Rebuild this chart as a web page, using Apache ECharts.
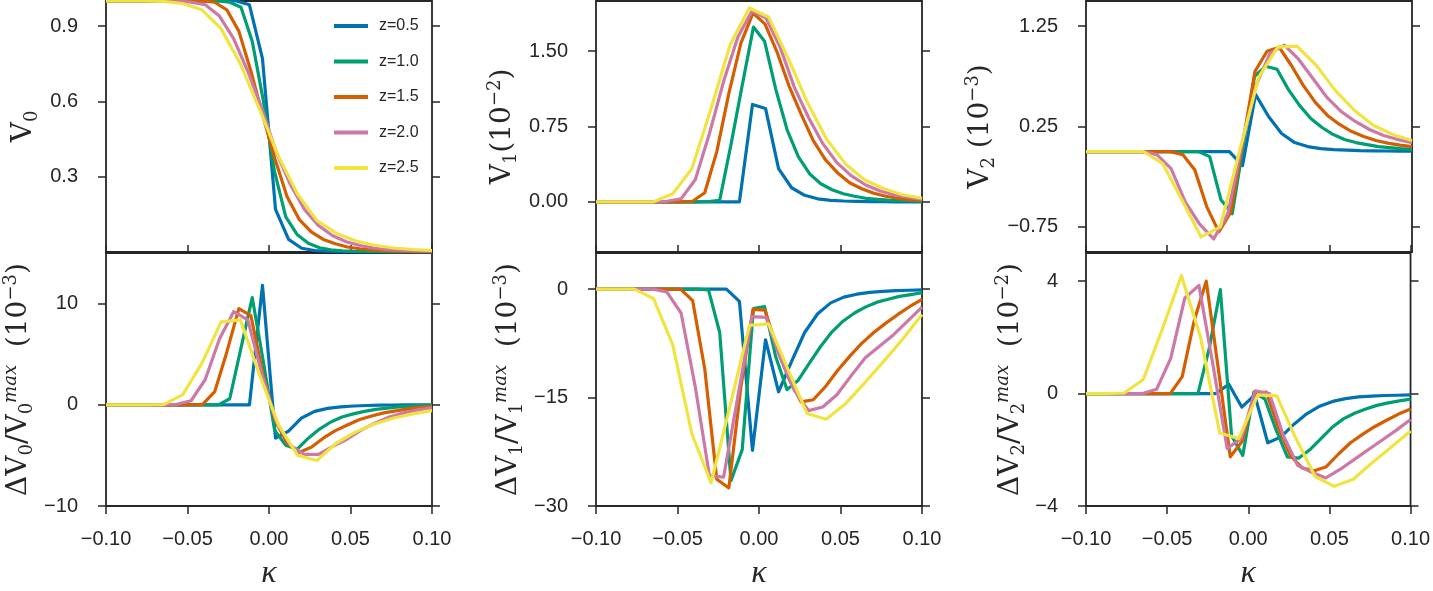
<!DOCTYPE html>
<html>
<head>
<meta charset="utf-8">
<title>V_n vs kappa</title>
<script src="https://cdn.jsdelivr.net/npm/echarts@6/dist/echarts.min.js"></script>
<style>
  html, body { margin: 0; padding: 0; background: #fff; }
  #main { width: 1433px; height: 591px; }
</style>
</head>
<body>
<div id="main"></div>
<script>
// every z was sampled on its own kappa grid
const kappaZ05 = [-0.1, -0.092, -0.084, -0.076, -0.068, -0.06, -0.052, -0.044, -0.036, -0.028, -0.02, -0.012, -0.004,
  0.004, 0.012, 0.02, 0.028, 0.036, 0.044, 0.052, 0.06, 0.068, 0.076, 0.084, 0.092, 0.1];
const kappaZ10 = [-0.1, -0.0931, -0.0862, -0.0793, -0.0724, -0.0655, -0.0586, -0.0517, -0.0448, -0.0379, -0.031, -0.0241,
  -0.0172, -0.0103, -0.0034, 0.0034, 0.0103, 0.0172, 0.0241, 0.031, 0.0379, 0.0448, 0.0517, 0.0586, 0.0655, 0.0724,
  0.0793, 0.0862, 0.0931, 0.1];
const kappaZ15 = [-0.1, -0.0926, -0.0852, -0.0778, -0.0704, -0.063, -0.0556, -0.0481, -0.0407, -0.0333, -0.0259, -0.0185,
  -0.0111, -0.0037, 0.0037, 0.0111, 0.0185, 0.0259, 0.0333, 0.0407, 0.0481, 0.0556, 0.063, 0.0704, 0.0778, 0.0852,
  0.0926, 0.1];
const kappaZ20 = [-0.1, -0.0913, -0.0826, -0.0739, -0.0652, -0.0565, -0.0478, -0.0391, -0.0304, -0.0217, -0.013, -0.0043,
  0.0043, 0.013, 0.0217, 0.0304, 0.0391, 0.0478, 0.0565, 0.0652, 0.0739, 0.0826, 0.0913, 0.1];
const kappaZ25 = [-0.1, -0.0882, -0.0765, -0.0647, -0.0529, -0.0412, -0.0294, -0.0176, -0.0059, 0.0059, 0.0176, 0.0294,
  0.0412, 0.0529, 0.0647, 0.0765, 0.0882, 0.1];

const zLabels = ['z=0.5', 'z=1.0', 'z=1.5', 'z=2.0', 'z=2.5'];
const zColors = ['#0072b2', '#009e73', '#d55e00', '#cc79a7', '#f0e442'];

// V0
const v0_z05 = [1, 1, 1, 1, 1, 1, 1, 1, 1, 1, 1, 0.985, 0.77, 0.17, 0.05, 0.015, 0.006, 0.003, 0.001, 0, 0, 0, 0, 0, 0, 0];
const v0_z10 = [1, 1, 1, 1, 1, 1, 1, 1, 1, 1, 1, 0.995, 0.975, 0.84, 0.6, 0.32, 0.14, 0.07, 0.035, 0.017, 0.009, 0.005,
  0.003, 0.002, 0.001, 0, 0, 0, 0, 0];
const v0_z15 = [1, 1, 1, 1, 1, 1, 1, 1, 1, 0.995, 0.965, 0.88, 0.72, 0.54, 0.37, 0.22, 0.13, 0.08, 0.05, 0.033, 0.02,
  0.013, 0.008, 0.005, 0.003, 0.002, 0.001, 0.001];
const v0_z20 = [1, 1, 1, 1, 1, 1, 0.995, 0.985, 0.94, 0.85, 0.72, 0.57, 0.4, 0.27, 0.17, 0.105, 0.065, 0.04, 0.025, 0.015,
  0.009, 0.006, 0.004, 0.003];
const v0_z25 = [1, 1, 1, 0.998, 0.99, 0.965, 0.89, 0.75, 0.57, 0.38, 0.23, 0.125, 0.075, 0.045, 0.027, 0.016, 0.01, 0.006];

// V1 (10^-2)
const v1_z05 = [0, 0, 0, 0, 0, 0, 0, 0, 0, 0, 0, 0, 0.97, 0.93, 0.33, 0.14, 0.065, 0.03, 0.015, 0.008, 0.004, 0.002,
  0.001, 0, 0, 0];
const v1_z10 = [0, 0, 0, 0, 0, 0, 0, 0, 0, 0, 0.003, 0.015, 0.57, 1.16, 1.74, 1.6, 1.12, 0.72, 0.45, 0.28, 0.18, 0.12,
  0.08, 0.055, 0.035, 0.025, 0.017, 0.012, 0.008, 0.005];
const v1_z15 = [0, 0, 0, 0, 0, 0, 0, 0, 0.005, 0.09, 0.5, 1.08, 1.58, 1.88, 1.77, 1.49, 1.15, 0.87, 0.61, 0.42, 0.29,
  0.19, 0.13, 0.085, 0.055, 0.035, 0.022, 0.014];
const v1_z20 = [0, 0, 0, 0, 0, 0.005, 0.03, 0.22, 0.68, 1.2, 1.64, 1.9, 1.83, 1.54, 1.14, 0.84, 0.58, 0.39, 0.26, 0.17,
  0.11, 0.07, 0.045, 0.025];
const v1_z25 = [0, 0, 0, 0, 0.08, 0.33, 0.93, 1.57, 1.93, 1.84, 1.44, 1.0, 0.63, 0.38, 0.22, 0.13, 0.07, 0.035];

// V2 (10^-3)
const v2_z05 = [0, 0, 0, 0, 0, 0, 0, 0, 0, 0, 0, 0, -0.14, 0.57, 0.35, 0.18, 0.09, 0.05, 0.03, 0.02, 0.015, 0.01, 0.008,
  0.006, 0.005, 0.004];
const v2_z10 = [0, 0, 0, 0, 0, 0, 0, 0, 0, 0, 0, -0.05, -0.48, -0.62, 0.07, 0.75, 0.85, 0.82, 0.62, 0.46, 0.33, 0.24,
  0.17, 0.12, 0.09, 0.07, 0.05, 0.04, 0.03, 0.025];
const v2_z15 = [0, 0, 0, 0, 0, 0, 0, 0, -0.03, -0.18, -0.55, -0.8, -0.6, 0.1, 0.8, 1.0, 1.04, 0.86, 0.66, 0.49, 0.36,
  0.27, 0.2, 0.15, 0.11, 0.085, 0.065, 0.05];
const v2_z20 = [0, 0, 0, 0, 0, -0.03, -0.17, -0.5, -0.72, -0.87, -0.62, 0.07, 0.66, 0.98, 1.06, 0.92, 0.73, 0.54, 0.4,
  0.3, 0.22, 0.16, 0.12, 0.09];
const v2_z25 = [0, 0, 0, 0, -0.12, -0.48, -0.85, -0.75, 0.0, 0.74, 1.04, 1.05, 0.86, 0.61, 0.41, 0.26, 0.17, 0.11];

// dV0 / V0max (10^-3)
const dv0_z05 = [0, 0, 0, 0, 0, 0, 0, 0, 0, 0, 0, 0, 11.8, -3.3, -2.6, -1.3, -0.65, -0.35, -0.2, -0.12, -0.07, -0.04,
  -0.02, -0.01, 0, 0];
const dv0_z10 = [0, 0, 0, 0, 0, 0, 0, 0, 0, 0, 0, 0.6, 5.6, 10.6, 4.2, -2.5, -4.0, -4.4, -3.3, -2.4, -1.7, -1.2, -0.9,
  -0.65, -0.45, -0.32, -0.22, -0.14, -0.08, -0.05];
const dv0_z15 = [0, 0, 0, 0, 0, 0, 0, 0, 0.05, 1.3, 5.2, 9.5, 8.8, 3.0, -1.5, -3.8, -4.7, -4.2, -3.3, -2.55, -2.0, -1.45,
  -1.1, -0.8, -0.6, -0.4, -0.25, -0.15];
const dv0_z20 = [0, 0, 0, 0, 0, 0.05, 0.4, 2.5, 6.5, 9.2, 8.4, 3.0, -1.6, -4.0, -4.9, -4.9, -4.1, -3.4, -2.5, -1.8, -1.2,
  -0.8, -0.5, -0.3];
const dv0_z25 = [0, 0, 0, 0.02, 1.0, 4.1, 8.2, 8.4, 3.0, -2.0, -5.0, -5.5, -3.8, -2.7, -1.9, -1.3, -0.9, -0.57];

// dV1 / V1max (10^-3)
const dv1_z05 = [0, 0, 0, 0, 0, 0, 0, 0, 0, 0, 0, -1.7, -22.3, -7.0, -14.2, -10.0, -6.0, -3.4, -1.9, -1.1, -0.7, -0.45,
  -0.3, -0.2, -0.15, -0.1];
const dv1_z10 = [0, 0, 0, 0, 0, 0, 0, 0, 0, 0, -0.1, -6.0, -26.5, -22.2, -2.7, -2.4, -9.4, -13.9, -12.6, -10.2, -7.9,
  -5.9, -4.4, -3.3, -2.45, -1.8, -1.4, -1.0, -0.75, -0.5];
const dv1_z15 = [0, 0, 0, 0, 0, 0, 0, 0, -1.6, -11.0, -26.3, -27.5, -13.5, -2.8, -2.9, -8.2, -12.5, -15.6, -15.3, -13.5,
  -11.3, -9.3, -7.5, -6.0, -4.7, -3.5, -2.4, -1.4];
const dv1_z20 = [0, 0, 0, 0, 0, -0.4, -3.3, -13.5, -25.8, -26.0, -14.9, -3.8, -3.9, -9.5, -14.0, -16.8, -16.3, -14.6,
  -12.0, -9.5, -7.9, -6.3, -4.4, -2.5];
const dv1_z25 = [0, 0, 0, -1.3, -7.7, -20.0, -26.8, -16.0, -5.0, -4.8, -11.0, -17.2, -18.0, -15.9, -13.0, -10.0, -6.9, -3.5];

// dV2 / V2max (10^-2)
const dv2_z05 = [0, 0, 0, 0, 0, 0, 0, 0, 0, 0, 0, 0.33, -0.48, -0.05, -1.75, -1.55, -1.1, -0.72, -0.45, -0.28, -0.18,
  -0.12, -0.09, -0.07, -0.06, -0.05];
const dv2_z10 = [0, 0, 0, 0, 0, 0, 0, 0, 0, 0, 0, 1.6, 3.7, -1.5, -2.2, 0.05, -0.2, -1.3, -2.25, -2.3, -2.0, -1.6, -1.2,
  -0.9, -0.7, -0.55, -0.42, -0.33, -0.26, -0.2];
const dv2_z15 = [0, 0, 0, 0, 0, 0, 0, 0, 0.6, 2.6, 4.0, 0.9, -2.25, -1.7, 0.0, 0.05, -1.2, -2.2, -2.65, -2.75, -2.6,
  -2.15, -1.75, -1.45, -1.18, -0.95, -0.73, -0.55];
const dv2_z20 = [0, 0, 0, 0, 0, 0.15, 1.25, 3.4, 3.85, 1.0, -1.95, -1.6, 0.1, 0.0, -1.5, -2.55, -2.8, -3.0, -2.7, -2.35,
  -2.0, -1.65, -1.3, -0.92];
const dv2_z25 = [0, 0, 0.02, 0.5, 2.3, 4.2, 2.0, -1.4, -1.6, -0.05, -0.08, -1.6, -2.95, -3.3, -3.05, -2.45, -1.9, -1.33];

const xTicks = [-0.1, -0.05, 0, 0.05, 0.1];
const yTicks = [[0.3, 0.6, 0.9], [0, 0.75, 1.5], [-0.75, 0.25, 1.25], [-10, 0, 10], [-30, -15, 0], [-4, 0, 4]];
const yRanges = [[0, 1], [-0.5, 2], [-1, 1.5], [-10, 15], [-30, 5], [-4, 5]];
const yDecimals = [1, 2, 2, 0, 0, 0];
const yNames = [
  '{v|V}{sub|0}',
  '{v|V}{sub|1}{v|(10}{sup|−2}{v|)}',
  '{v|V}{sub|2}{v| (10}{sup|−3}{v|)}',
  '{v|ΔV}{sub|0}{v|/V}{sub|0}{supi|max}{v|  (10}{sup|−3}{v|)}',
  '{v|ΔV}{sub|1}{v|/V}{sub|1}{supi|max}{v|  (10}{sup|−3}{v|)}',
  '{v|ΔV}{sub|2}{v|/V}{sub|2}{supi|max}{v|  (10}{sup|−2}{v|)}'
];

const kappas = [kappaZ05, kappaZ10, kappaZ15, kappaZ20, kappaZ25];
const panelValues = [
  [v0_z05, v0_z10, v0_z15, v0_z20, v0_z25],
  [v1_z05, v1_z10, v1_z15, v1_z20, v1_z25],
  [v2_z05, v2_z10, v2_z15, v2_z20, v2_z25],
  [dv0_z05, dv0_z10, dv0_z15, dv0_z20, dv0_z25],
  [dv1_z05, dv1_z10, dv1_z15, dv1_z20, dv1_z25],
  [dv2_z05, dv2_z10, dv2_z15, dv2_z20, dv2_z25]
];

// layout
const colLeft = [106, 596, 1086];
const nameGaps = [65, 76, 88, 70, 70, 58];
const INK = '#262626';
const SANS = '"Liberation Sans", Arial, Helvetica, sans-serif';
const SERIF = '"DejaVu Serif", "Liberation Serif", serif';

const nameRich = {
  v: { fontFamily: SERIF, fontSize: 28, lineHeight: 34, color: INK },
  sub: { fontFamily: SERIF, fontSize: 18, lineHeight: 18, verticalAlign: 'bottom', color: INK },
  sup: { fontFamily: SERIF, fontSize: 18, lineHeight: 18, verticalAlign: 'top', color: INK },
  supi: { fontFamily: SERIF, fontStyle: 'italic', fontSize: 18, lineHeight: 18, verticalAlign: 'top', color: INK }
};

const fmt = (v, d) => v.toFixed(d).replace('-', '−');
const tick = { show: true, inside: false, length: 8, lineStyle: { color: INK, width: 1.5 } };
const noLine = { show: false, onZero: false };

const grids = [], xAxes = [], yAxes = [], series = [];
for (let p = 0; p < 6; p++) {
  const row = p < 3 ? 0 : 1;
  const col = p % 3;
  grids.push({
    left: colLeft[col], width: 326,
    top: row === 0 ? 1 : 253, height: row === 0 ? 251 : 254,
    show: true, borderColor: INK, borderWidth: 1.8, backgroundColor: 'transparent'
  });
  xAxes.push({
    type: 'value', gridIndex: p, min: -0.1, max: 0.1, position: 'bottom',
    axisLine: noLine, splitLine: { show: false },
    axisTick: row === 1 ? Object.assign({ customValues: xTicks }, tick) : { show: false },
    axisLabel: row === 1 ? {
      customValues: xTicks, margin: 23, fontSize: 20, fontFamily: SANS, color: INK,
      formatter: v => fmt(v, 2)
    } : { show: false },
    name: row === 1 ? 'κ' : '', nameLocation: 'middle', nameGap: 52,
    nameTextStyle: { fontFamily: '"Liberation Serif", serif', fontStyle: 'italic', fontSize: 32, color: INK }
  });
  yAxes.push({
    type: 'value', gridIndex: p, min: yRanges[p][0], max: yRanges[p][1], position: 'left',
    axisLine: noLine, splitLine: { show: false },
    axisTick: Object.assign({ customValues: yTicks[p] }, tick),
    axisLabel: {
      customValues: yTicks[p], margin: 28, fontSize: 20, fontFamily: SANS, color: INK,
      formatter: v => fmt(v, yDecimals[p])
    },
    name: yNames[p], nameLocation: 'middle', nameGap: nameGaps[p], nameRotate: 90,
    nameTextStyle: { rich: nameRich }
  });
  for (let z = 0; z < 5; z++) {
    series.push({
      type: 'line', name: zLabels[z], xAxisIndex: p, yAxisIndex: p,
      data: kappas[z].map((k, j) => [k, panelValues[p][z][j]]),
      showSymbol: false, symbol: 'none',
      lineStyle: { width: 3.2, color: zColors[z], join: 'round' },
      itemStyle: { color: zColors[z] }
    });
  }
}
// ticks on the right spine of every panel
for (let p = 0; p < 6; p++) {
  yAxes.push({
    type: 'value', gridIndex: p, min: yRanges[p][0], max: yRanges[p][1], position: 'right',
    axisLine: noLine, splitLine: { show: false },
    axisTick: Object.assign({ customValues: yTicks[p] }, tick),
    axisLabel: { show: false }
  });
}
// ticks on the top spine of the lower panels (they point up into the upper ones)
for (let p = 3; p < 6; p++) {
  xAxes.push({
    type: 'value', gridIndex: p, min: -0.1, max: 0.1, position: 'top',
    axisLine: noLine, splitLine: { show: false },
    axisTick: Object.assign({ customValues: xTicks }, tick),
    axisLabel: { show: false }
  });
}

const chart = echarts.init(document.getElementById('main'));
chart.setOption({
  animation: false,
  backgroundColor: '#fff',
  textStyle: { fontFamily: SANS },
  grid: grids,
  xAxis: xAxes,
  yAxis: yAxes,
  legend: {
    data: zLabels, orient: 'vertical', left: 329, top: 13,
    icon: 'rect', itemWidth: 34, itemHeight: 4, itemGap: 19.5,
    textStyle: { fontSize: 16, color: INK, fontFamily: SANS, padding: [0, 0, 0, 6] }
  },
  series: series
});
</script>
</body>
</html>
